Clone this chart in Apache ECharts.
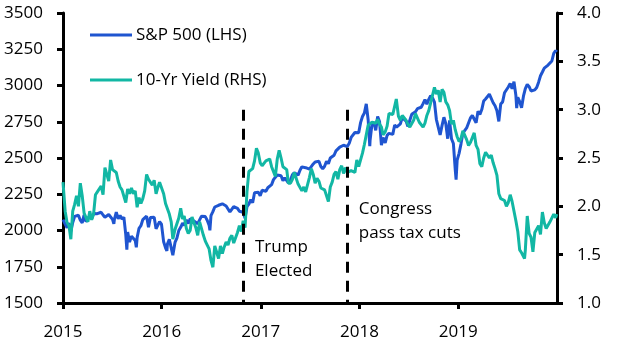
<!DOCTYPE html>
<html>
<head>
<meta charset="utf-8">
<script src="https://cdn.jsdelivr.net/npm/echarts@6/dist/echarts.min.js"></script>
<style>
html,body{margin:0;padding:0;background:#fff;}
#chart{width:629px;height:355px;}
</style>
</head>
<body>
<div id="chart"></div>
<script>
// ---- Data ----
var spName = 'S&P 500 (LHS)';
var yieldName = '10-Yr Yield (RHS)';
var yearTicks = ['2015','2016','2017','2018','2019'];
var leftTicks = [1500,1750,2000,2250,2500,2750,3000,3250,3500];
var rightTicks = [1.0,1.5,2.0,2.5,3.0,3.5,4.0];

var sp2015 = [
['2015-01-01',2075],['2015-01-09',2045],['2015-01-16',2019],['2015-01-23',2051],['2015-01-30',1995],
['2015-02-06',2055],['2015-02-13',2097],['2015-02-20',2110],['2015-02-27',2105],['2015-03-06',2071],
['2015-03-13',2053],['2015-03-20',2108],['2015-03-27',2061],['2015-04-03',2067],['2015-04-10',2102],
['2015-04-17',2081],['2015-04-24',2117],['2015-05-01',2108],['2015-05-08',2116],['2015-05-15',2123],
['2015-05-22',2126],['2015-05-29',2107],['2015-06-05',2092],['2015-06-12',2094],['2015-06-19',2110],
['2015-06-26',2102],['2015-07-03',2077],['2015-07-08',2046],['2015-07-10',2077],['2015-07-17',2126],
['2015-07-24',2080],['2015-07-31',2104],['2015-08-07',2078],['2015-08-14',2092],['2015-08-21',1971],
['2015-08-25',1868],['2015-08-28',1989],['2015-09-04',1921],['2015-09-11',1961],['2015-09-18',1958],
['2015-09-25',1931],['2015-09-29',1884],['2015-10-02',1951],['2015-10-09',2015],['2015-10-16',2033],
['2015-10-23',2075],['2015-10-30',2079],['2015-11-06',2099],['2015-11-13',2023],['2015-11-20',2089],
['2015-11-27',2090],['2015-12-04',2092],['2015-12-11',2012],['2015-12-18',2006],['2015-12-24',2061],
['2015-12-31',2044]
];
var sp2016 = [
['2016-01-08',1922],['2016-01-15',1880],['2016-01-20',1859],['2016-01-22',1907],['2016-01-29',1940],
['2016-02-05',1880],['2016-02-11',1829],['2016-02-19',1918],['2016-02-26',1948],['2016-03-04',2000],
['2016-03-11',2022],['2016-03-18',2050],['2016-03-24',2035],['2016-04-01',2073],['2016-04-08',2048],
['2016-04-15',2081],['2016-04-22',2092],['2016-04-29',2065],['2016-05-06',2057],['2016-05-13',2047],
['2016-05-20',2052],['2016-05-27',2099],['2016-06-03',2099],['2016-06-10',2096],['2016-06-17',2071],
['2016-06-24',2037],['2016-06-27',2001],['2016-07-01',2103],['2016-07-08',2130],['2016-07-15',2162],
['2016-07-22',2175],['2016-07-29',2174],['2016-08-05',2183],['2016-08-12',2184],['2016-08-19',2184],
['2016-08-26',2169],['2016-09-02',2180],['2016-09-09',2128],['2016-09-16',2139],['2016-09-23',2165],
['2016-09-30',2168],['2016-10-07',2153],['2016-10-14',2133],['2016-10-21',2141],['2016-10-28',2126],
['2016-11-04',2085],['2016-11-11',2164],['2016-11-18',2182],['2016-11-25',2213],['2016-12-02',2192],
['2016-12-09',2260],['2016-12-16',2258],['2016-12-23',2264],['2016-12-30',2239]
];
var sp2017 = [
['2017-01-06',2277],['2017-01-13',2275],['2017-01-20',2271],['2017-01-27',2295],['2017-02-03',2297],
['2017-02-10',2316],['2017-02-17',2351],['2017-02-24',2367],['2017-03-03',2383],['2017-03-10',2373],
['2017-03-17',2378],['2017-03-24',2344],['2017-03-31',2363],['2017-04-07',2355],['2017-04-13',2329],
['2017-04-21',2349],['2017-04-28',2384],['2017-05-05',2399],['2017-05-12',2391],['2017-05-19',2382],
['2017-05-26',2416],['2017-06-02',2439],['2017-06-09',2432],['2017-06-16',2433],['2017-06-23',2438],
['2017-06-30',2423],['2017-07-07',2425],['2017-07-14',2459],['2017-07-21',2473],['2017-07-28',2472],
['2017-08-04',2477],['2017-08-11',2441],['2017-08-18',2426],['2017-08-25',2443],['2017-09-01',2477],
['2017-09-08',2461],['2017-09-15',2500],['2017-09-22',2502],['2017-09-29',2519],['2017-10-06',2549],
['2017-10-13',2553],['2017-10-20',2575],['2017-10-27',2581],['2017-11-03',2588],['2017-11-10',2582],
['2017-11-17',2579],['2017-11-24',2602],['2017-12-01',2642],['2017-12-08',2652],['2017-12-15',2676],
['2017-12-22',2683],['2017-12-29',2674]
];
var sp2018 = [
['2018-01-05',2744],['2018-01-12',2786],['2018-01-19',2810],['2018-01-26',2873],['2018-02-02',2762],
['2018-02-08',2581],['2018-02-09',2620],['2018-02-16',2732],['2018-02-23',2747],['2018-03-02',2691],
['2018-03-09',2786],['2018-03-16',2752],['2018-03-23',2588],['2018-03-29',2641],['2018-04-06',2604],
['2018-04-13',2656],['2018-04-20',2670],['2018-04-27',2670],['2018-05-04',2663],['2018-05-11',2728],
['2018-05-18',2713],['2018-05-25',2721],['2018-06-01',2735],['2018-06-08',2779],['2018-06-15',2780],
['2018-06-22',2755],['2018-06-29',2718],['2018-07-06',2760],['2018-07-13',2801],['2018-07-20',2802],
['2018-07-27',2819],['2018-08-03',2840],['2018-08-10',2833],['2018-08-17',2850],['2018-08-24',2875],
['2018-08-31',2902],['2018-09-07',2872],['2018-09-14',2904],['2018-09-21',2930],['2018-09-28',2914],
['2018-10-05',2886],['2018-10-12',2767],['2018-10-19',2768],['2018-10-26',2659],['2018-11-02',2723],
['2018-11-09',2781],['2018-11-16',2736],['2018-11-23',2633],['2018-11-30',2760],['2018-12-07',2633],
['2018-12-14',2600],['2018-12-21',2417],['2018-12-24',2351],['2018-12-28',2486]
];
var sp2019 = [
['2019-01-04',2532],['2019-01-11',2596],['2019-01-18',2671],['2019-01-25',2665],['2019-02-01',2707],
['2019-02-08',2708],['2019-02-15',2776],['2019-02-22',2793],['2019-03-01',2804],['2019-03-08',2743],
['2019-03-15',2822],['2019-03-22',2801],['2019-03-29',2834],['2019-04-05',2893],['2019-04-12',2907],
['2019-04-18',2905],['2019-04-26',2940],['2019-05-03',2946],['2019-05-10',2881],['2019-05-17',2860],
['2019-05-24',2826],['2019-05-31',2752],['2019-06-07',2873],['2019-06-14',2887],['2019-06-21',2950],
['2019-06-28',2942],['2019-07-05',2990],['2019-07-12',3014],['2019-07-19',2977],['2019-07-26',3026],
['2019-08-02',2932],['2019-08-05',2844],['2019-08-09',2919],['2019-08-16',2889],['2019-08-23',2847],
['2019-08-30',2926],['2019-09-06',2979],['2019-09-13',3007],['2019-09-20',2992],['2019-09-27',2962],
['2019-10-04',2952],['2019-10-11',2970],['2019-10-18',2986],['2019-10-25',3023],['2019-11-01',3067],
['2019-11-08',3093],['2019-11-15',3120],['2019-11-22',3110],['2019-11-29',3141],['2019-12-06',3146],
['2019-12-13',3169],['2019-12-20',3221],['2019-12-27',3240],['2019-12-31',3231]
];

var yld2015 = [
['2015-01-01',2.25],['2015-01-09',1.95],['2015-01-16',1.83],['2015-01-23',1.80],['2015-01-30',1.66],
['2015-02-06',1.95],['2015-02-13',2.02],['2015-02-20',2.11],['2015-02-27',2.00],['2015-03-06',2.24],
['2015-03-13',2.11],['2015-03-20',1.93],['2015-03-27',1.95],['2015-04-03',1.84],['2015-04-10',1.95],
['2015-04-17',1.86],['2015-04-24',1.92],['2015-05-01',2.12],['2015-05-08',2.15],['2015-05-15',2.14],
['2015-05-22',2.21],['2015-05-29',2.12],['2015-06-05',2.40],['2015-06-12',2.39],['2015-06-19',2.26],
['2015-06-26',2.48],['2015-07-03',2.38],['2015-07-10',2.40],['2015-07-17',2.35],['2015-07-24',2.26],
['2015-07-31',2.20],['2015-08-07',2.17],['2015-08-14',2.19],['2015-08-21',2.04],['2015-08-28',2.18],
['2015-09-04',2.13],['2015-09-11',2.19],['2015-09-18',2.13],['2015-09-25',2.16],['2015-10-02',1.99],
['2015-10-09',2.09],['2015-10-16',2.03],['2015-10-23',2.08],['2015-10-30',2.16],['2015-11-06',2.33],
['2015-11-13',2.28],['2015-11-20',2.26],['2015-11-27',2.22],['2015-12-04',2.27],['2015-12-11',2.13],
['2015-12-18',2.20],['2015-12-24',2.25],['2015-12-31',2.27]
];
var yld2016 = [
['2016-01-08',2.13],['2016-01-15',2.03],['2016-01-22',2.05],['2016-01-29',1.92],['2016-02-05',1.84],
['2016-02-11',1.66],['2016-02-19',1.76],['2016-02-26',1.76],['2016-03-04',1.88],['2016-03-11',1.98],
['2016-03-18',1.87],['2016-03-24',1.90],['2016-04-01',1.77],['2016-04-08',1.72],['2016-04-15',1.75],
['2016-04-22',1.89],['2016-04-29',1.83],['2016-05-06',1.78],['2016-05-13',1.70],['2016-05-20',1.84],
['2016-05-27',1.85],['2016-06-03',1.70],['2016-06-10',1.64],['2016-06-17',1.62],['2016-06-24',1.56],
['2016-07-01',1.44],['2016-07-08',1.37],['2016-07-15',1.59],['2016-07-22',1.57],['2016-07-29',1.46],
['2016-08-05',1.59],['2016-08-12',1.51],['2016-08-19',1.58],['2016-08-26',1.63],['2016-09-02',1.60],
['2016-09-09',1.67],['2016-09-16',1.70],['2016-09-23',1.62],['2016-09-30',1.60],['2016-10-07',1.73],
['2016-10-14',1.80],['2016-10-21',1.74],['2016-10-28',1.85],['2016-11-04',1.78],['2016-11-11',2.15],
['2016-11-18',2.36],['2016-11-25',2.36],['2016-12-02',2.39],['2016-12-09',2.47],['2016-12-16',2.60],
['2016-12-23',2.55],['2016-12-30',2.45]
];
var yld2017 = [
['2017-01-06',2.42],['2017-01-13',2.40],['2017-01-20',2.47],['2017-01-27',2.49],['2017-02-03',2.49],
['2017-02-10',2.41],['2017-02-17',2.42],['2017-02-24',2.31],['2017-03-03',2.49],['2017-03-10',2.58],
['2017-03-17',2.50],['2017-03-24',2.41],['2017-03-31',2.39],['2017-04-07',2.38],['2017-04-13',2.24],
['2017-04-21',2.24],['2017-04-28',2.28],['2017-05-05',2.35],['2017-05-12',2.33],['2017-05-19',2.23],
['2017-05-26',2.25],['2017-06-02',2.16],['2017-06-09',2.20],['2017-06-16',2.15],['2017-06-23',2.14],
['2017-06-30',2.30],['2017-07-07',2.39],['2017-07-14',2.33],['2017-07-21',2.24],['2017-07-28',2.29],
['2017-08-04',2.26],['2017-08-11',2.19],['2017-08-18',2.19],['2017-08-25',2.17],['2017-09-01',2.16],
['2017-09-08',2.05],['2017-09-15',2.20],['2017-09-22',2.25],['2017-09-29',2.33],['2017-10-06',2.36],
['2017-10-13',2.28],['2017-10-20',2.38],['2017-10-27',2.42],['2017-11-03',2.34],['2017-11-10',2.40],
['2017-11-17',2.35],['2017-11-24',2.34],['2017-12-01',2.37],['2017-12-08',2.38],['2017-12-15',2.35],
['2017-12-22',2.48],['2017-12-29',2.41]
];
var yld2018 = [
['2018-01-05',2.48],['2018-01-12',2.55],['2018-01-19',2.64],['2018-01-26',2.66],['2018-02-02',2.84],
['2018-02-09',2.83],['2018-02-16',2.87],['2018-02-23',2.87],['2018-03-02',2.86],['2018-03-09',2.90],
['2018-03-16',2.85],['2018-03-23',2.82],['2018-03-29',2.74],['2018-04-06',2.77],['2018-04-13',2.83],
['2018-04-20',2.96],['2018-04-27',2.96],['2018-05-04',2.95],['2018-05-11',2.97],['2018-05-17',3.11],
['2018-05-25',2.93],['2018-06-01',2.89],['2018-06-08',2.94],['2018-06-15',2.92],['2018-06-22',2.89],
['2018-06-29',2.85],['2018-07-06',2.82],['2018-07-13',2.83],['2018-07-20',2.89],['2018-07-27',2.96],
['2018-08-03',2.95],['2018-08-10',2.87],['2018-08-17',2.87],['2018-08-24',2.82],['2018-08-31',2.86],
['2018-09-07',2.94],['2018-09-14',2.99],['2018-09-21',3.07],['2018-09-28',3.05],['2018-10-05',3.23],
['2018-10-12',3.16],['2018-10-19',3.20],['2018-10-26',3.08],['2018-11-02',3.21],['2018-11-09',3.18],
['2018-11-16',3.08],['2018-11-23',3.05],['2018-11-30',2.99],['2018-12-07',2.85],['2018-12-14',2.89],
['2018-12-21',2.79],['2018-12-28',2.72]
];
var yld2019 = [
['2019-01-04',2.67],['2019-01-11',2.70],['2019-01-18',2.78],['2019-01-25',2.76],['2019-02-01',2.69],
['2019-02-08',2.63],['2019-02-15',2.66],['2019-02-22',2.65],['2019-03-01',2.76],['2019-03-08',2.63],
['2019-03-15',2.59],['2019-03-22',2.44],['2019-03-29',2.41],['2019-04-05',2.50],['2019-04-12',2.56],
['2019-04-18',2.56],['2019-04-26',2.50],['2019-05-03',2.53],['2019-05-10',2.45],['2019-05-17',2.39],
['2019-05-24',2.32],['2019-05-31',2.13],['2019-06-07',2.08],['2019-06-14',2.09],['2019-06-21',2.06],
['2019-06-28',2.00],['2019-07-05',2.04],['2019-07-12',2.12],['2019-07-19',2.05],['2019-07-26',2.07],
['2019-08-02',1.85],['2019-08-09',1.74],['2019-08-16',1.55],['2019-08-23',1.52],['2019-08-30',1.50],
['2019-09-03',1.46],['2019-09-06',1.55],['2019-09-13',1.90],['2019-09-20',1.72],['2019-09-27',1.68],
['2019-10-04',1.53],['2019-10-11',1.73],['2019-10-18',1.75],['2019-10-25',1.80],['2019-11-01',1.71],
['2019-11-08',1.94],['2019-11-15',1.83],['2019-11-22',1.77],['2019-11-29',1.78],['2019-12-06',1.84],
['2019-12-13',1.82],['2019-12-20',1.92],['2019-12-27',1.88],['2019-12-31',1.92]
];

var eventDates = ['2016-10-27','2017-11-15'];
var eventTop = 3.0;
var eventLabels = ['Trump\nElected','Congress\npass tax cuts'];
var eventLabelLevels = [1.70, 2.10];

// ---- Chart ----
var spData = [].concat(sp2015, sp2016, sp2017, sp2018, sp2019);
var yldData = [].concat(yld2015, yld2016, yld2017, yld2018, yld2019);
var FONT = 'Open Sans';
var chart = echarts.init(document.getElementById('chart'), null, {renderer:'canvas'});

var axisLineStyle = {color:'#000', width:3};
var labelStyle = {color:'#000', fontSize:17, fontFamily:FONT};

chart.setOption({
  animation:false,
  backgroundColor:'#fff',
  grid:{left:63, right:72, top:13, bottom:52, containLabel:false},
  legend:{
    orient:'vertical', left:85, top:20, itemGap:25,
    itemWidth:42, itemHeight:3, icon:'rect',
    textStyle:{color:'#000', fontSize:17, fontFamily:FONT, lineHeight:20, padding:[0,0,0,-1]},
    data:[spName, yieldName]
  },
  xAxis:{
    type:'time', min:'2015-01-01', max:'2020-01-01',
    splitNumber:5,
    axisLine:{show:true, onZero:false, lineStyle:axisLineStyle},
    axisTick:{show:true, inside:false, length:6, lineStyle:{color:'#000', width:3}},
    axisLabel:Object.assign({margin:21, showMaxLabel:false, hideOverlap:false,
      formatter:function(v){ var y = new Date(v).getUTCFullYear(); return yearTicks.indexOf(String(y))>=0 ? String(y) : ''; }}, labelStyle),
    splitLine:{show:false},
    minorTick:{show:false}
  },
  yAxis:[{
    type:'value', min:leftTicks[0], max:leftTicks[leftTicks.length-1], interval:250,
    position:'left',
    axisLine:{show:true, lineStyle:axisLineStyle},
    axisTick:{show:true, inside:false, length:6, lineStyle:{color:'#000', width:3}},
    axisLabel:Object.assign({margin:20, formatter:function(v){return String(v);}}, labelStyle),
    splitLine:{show:false}
  },{
    type:'value', min:rightTicks[0], max:rightTicks[rightTicks.length-1], interval:0.5,
    position:'right',
    axisLine:{show:true, lineStyle:axisLineStyle},
    axisTick:{show:true, inside:false, length:6, lineStyle:{color:'#000', width:3}},
    axisLabel:Object.assign({margin:20, formatter:function(v){return v.toFixed(1);}}, labelStyle),
    splitLine:{show:false}
  }],
  series:[{
    name:spName, type:'line', yAxisIndex:0, data:spData,
    showSymbol:false, symbol:'none',
    lineStyle:{color:'#1f55d0', width:3},
    itemStyle:{color:'#1f55d0'}
  },{
    name:yieldName, type:'line', yAxisIndex:1, data:yldData,
    showSymbol:false, symbol:'none',
    lineStyle:{color:'#12b7a4', width:3},
    itemStyle:{color:'#12b7a4'},
    markLine:{
      silent:true, symbol:['none','none'],
      lineStyle:{color:'#000', width:3, type:[11,8]},
      label:{show:false},
      data:eventDates.map(function(d){ return [{coord:[d, eventTop]},{coord:[d, rightTicks[0]]}]; })
    }
  }]
});

// Annotation texts placed beside the event lines
function placeLabels(){
  var els = eventDates.map(function(d, i){
    var p = chart.convertToPixel({xAxisIndex:0, yAxisIndex:1}, [d, eventLabelLevels[i]]);
    return {
      type:'text', x:p[0]+12, y:p[1],
      style:{text:eventLabels[i], fill:'#000', font:'17px "Open Sans"', lineHeight:24, textVerticalAlign:'top'}
    };
  });
  chart.setOption({graphic:els});
}
placeLabels();
</script>
</body>
</html>
